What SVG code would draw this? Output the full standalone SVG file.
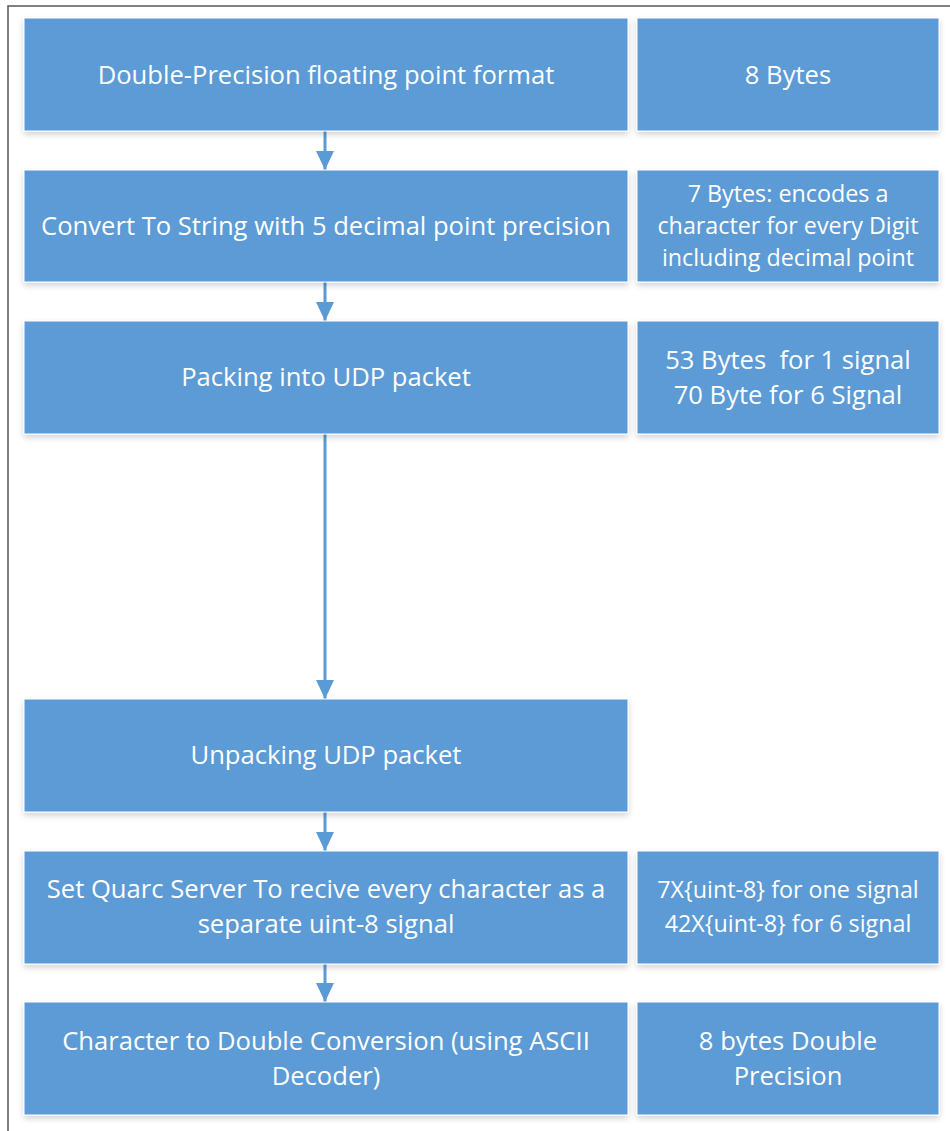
<svg xmlns="http://www.w3.org/2000/svg" width="950" height="1131" viewBox="0 0 950 1131">
  <defs>
    <filter id="shadow" x="-5%" y="-10%" width="110%" height="130%">
      <feGaussianBlur in="SourceAlpha" stdDeviation="3"/>
      <feOffset dy="3"/>
      <feComponentTransfer><feFuncA type="linear" slope="0.18"/></feComponentTransfer>
      <feMerge><feMergeNode/><feMergeNode in="SourceGraphic"/></feMerge>
    </filter>
    <!-- triangular head, drawn pointing along +x so orient="auto" turns it down the line -->
    <marker id="arrow" viewBox="0 0 19 18" markerWidth="19" markerHeight="18" refX="19" refY="9" orient="auto" markerUnits="userSpaceOnUse">
      <path d="M0,0 L19,9 L0,18 Z" fill="#5B9BD5"/>
    </marker>
    <style>
      .box { fill: #5B9BD5; stroke: #ffffff; stroke-width: 1; filter: url(#shadow); }
      .lbl { font-family: "Open Sans", "Liberation Sans", sans-serif; font-size: 25.6px; fill: #ffffff; text-anchor: middle; }
      .sm { font-size: 23.3px; }
      .conn { stroke: #5B9BD5; stroke-width: 3; fill: none; }
      .frame { stroke: #555555; stroke-width: 1.5; fill: none; }
    </style>
  </defs>

  <rect width="950" height="1131" fill="#ffffff"/>
  <!-- outer frame -->
  <path class="frame" d="M8,1131 L8,6 L950,6"/>

  <g id="connectors">
    <line class="conn" x1="325" y1="131" x2="325" y2="170" marker-end="url(#arrow)"/>
    <line class="conn" x1="325" y1="282" x2="325" y2="321" marker-end="url(#arrow)"/>
    <line class="conn" x1="325" y1="434" x2="325" y2="699" marker-end="url(#arrow)"/>
    <line class="conn" x1="325" y1="812" x2="325" y2="851" marker-end="url(#arrow)"/>
    <line class="conn" x1="325" y1="964" x2="325" y2="1002" marker-end="url(#arrow)"/>
  </g>

  <g id="n1">
    <rect class="box" x="24" y="18" width="604" height="113"/>
    <text class="lbl" x="326" y="84">Double-Precision floating point format</text>
  </g>
  <g id="n1-size">
    <rect class="box" x="637" y="18" width="302" height="113"/>
    <text class="lbl" x="788" y="84">8 Bytes</text>
  </g>

  <g id="n2">
    <rect class="box" x="24" y="170" width="604" height="112"/>
    <text class="lbl" x="326" y="235">Convert To String with 5 decimal point precision</text>
  </g>
  <g id="n2-size">
    <rect class="box" x="637" y="170" width="302" height="112"/>
    <text class="lbl sm" x="788" y="202">7 Bytes: encodes a</text>
    <text class="lbl sm" x="788" y="234">character for every Digit</text>
    <text class="lbl sm" x="788" y="266">including decimal point</text>
  </g>

  <g id="n3">
    <rect class="box" x="24" y="321" width="604" height="113"/>
    <text class="lbl" x="326" y="386">Packing into UDP packet</text>
  </g>
  <g id="n3-size">
    <rect class="box" x="637" y="321" width="302" height="113"/>
    <text class="lbl" x="788" y="369" xml:space="preserve">53 Bytes  for 1 signal</text>
    <text class="lbl" x="788" y="404">70 Byte for 6 Signal</text>
  </g>

  <g id="n4">
    <rect class="box" x="24" y="699" width="604" height="113"/>
    <text class="lbl" x="326" y="764">Unpacking UDP packet</text>
  </g>

  <g id="n5">
    <rect class="box" x="24" y="851" width="604" height="113"/>
    <text class="lbl" x="326" y="898">Set Quarc Server To recive every character as a</text>
    <text class="lbl" x="326" y="933">separate uint-8 signal</text>
  </g>
  <g id="n5-size">
    <rect class="box" x="637" y="851" width="302" height="113"/>
    <text class="lbl sm" x="788" y="898">7X{uint-8} for one signal</text>
    <text class="lbl sm" x="788" y="932">42X{uint-8} for 6 signal</text>
  </g>

  <g id="n6">
    <rect class="box" x="24" y="1002" width="604" height="113"/>
    <text class="lbl" x="326" y="1050">Character to Double Conversion (using ASCII</text>
    <text class="lbl" x="326" y="1085">Decoder)</text>
  </g>
  <g id="n6-size">
    <rect class="box" x="637" y="1002" width="302" height="113"/>
    <text class="lbl" x="788" y="1050">8 bytes Double</text>
    <text class="lbl" x="788" y="1085">Precision</text>
  </g>
</svg>
